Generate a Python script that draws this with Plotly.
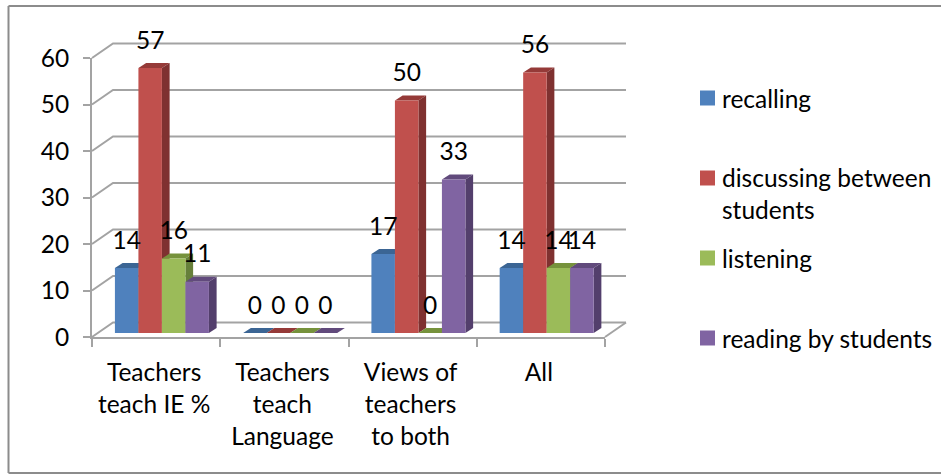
import plotly.graph_objects as go

W, H = 941, 474

categories = ["Teachers<br>teach IE %", "Teachers<br>teach<br>Language", "Views of<br>teachers<br>to both", "All"]
series_names = ["recalling", "discussing between students", "listening", "reading by students"]
recalling = [14, 0, 17, 14]
discussing = [57, 0, 50, 56]
listening = [16, 0, 0, 14]
reading = [11, 0, 33, 14]
series_values = [recalling, discussing, listening, reading]
y_ticks = [0, 10, 20, 30, 40, 50, 60]

front = ["#4f81bd", "#c0504d", "#9bbb59", "#8064a2"]
top = ["#3b6594", "#953a38", "#76923c", "#614a7c"]
side = ["#34587f", "#7f3130", "#66803a", "#533f6c"]
GRID = "#a3a3a3"
FONT = "Lato, Carlito, sans-serif"
FS = 24.5

# pixel geometry
PX_CAT = 128.25
PX_VAL = 4.65
X0, Y0 = 97.8, 333.0          # bar front plane origin
DOM_L, DOM_R, DOM_T, DOM_B = 80.0, 640.0, 30.0, 345.0
xr = [(DOM_L - X0) / PX_CAT, (DOM_R - X0) / PX_CAT]
yr = [(Y0 - DOM_B) / PX_VAL, (Y0 - DOM_T) / PX_VAL]
xdom = [DOM_L / W, DOM_R / W]
ydom = [1 - DOM_B / H, 1 - DOM_T / H]

GROUP = 94 / PX_CAT
BAR = GROUP / 4
D_U, D_V = 7.7 / PX_CAT, 5.0 / PX_VAL   # bar depth
FL_U, FL_V = -5.8 / PX_CAT, -4.0 / PX_VAL   # chart front plane
BK_U, BK_V = 15.2 / PX_CAT, 10.5 / PX_VAL   # chart back wall
LABEL_LIFT = 25.5 / PX_VAL
CAT_LABEL_SHIFT = -2.0 / PX_CAT

fig = go.Figure()

# walls: gridlines
for v in y_ticks:
    fig.add_trace(go.Scatter(
        x=[FL_U, BK_U, 4 + BK_U], y=[v + FL_V, v + BK_V, v + BK_V], mode="lines",
        line=dict(color=GRID, width=2), hoverinfo="skip", showlegend=False))
fig.add_trace(go.Scatter(
    x=[4 + FL_U, 4 + BK_U], y=[FL_V, BK_V], mode="lines",
    line=dict(color=GRID, width=2), hoverinfo="skip", showlegend=False))

centers = [i + 0.5 for i in range(len(categories))]

# bar depth faces, left to right
for ci, c in enumerate(centers):
    for si, vals in enumerate(series_values):
        v = vals[ci]
        l = c - GROUP / 2 + si * BAR
        r = l + BAR
        fig.add_trace(go.Scatter(
            x=[l, r, r + D_U, l + D_U, l], y=[v, v, v + D_V, v + D_V, v],
            mode="lines", fill="toself", fillcolor=top[si], line=dict(width=0),
            hoverinfo="skip", showlegend=False))
        fig.add_trace(go.Scatter(
            x=[r, r + D_U, r + D_U, r, r], y=[0, D_V, v + D_V, v, 0],
            mode="lines", fill="toself", fillcolor=side[si], line=dict(width=0),
            hoverinfo="skip", showlegend=False))

# bar front faces on an overlay of the same scale, above the depth faces
for si, vals in enumerate(series_values):
    fig.add_trace(go.Bar(
        x=centers, y=vals, name=series_names[si], marker=dict(color=front[si], line=dict(width=0)),
        xaxis="x3", yaxis="y3", showlegend=False))

# invisible trace so that the labelled axes are drawn
fig.add_trace(go.Scatter(x=centers, y=[0, 0, 0, 0], mode="markers", marker=dict(opacity=0),
                         xaxis="x2", yaxis="y2", hoverinfo="skip", showlegend=False))

# data labels
for si, vals in enumerate(series_values):
    xs = [c - GROUP / 2 + (si + 0.5) * BAR for c in centers]
    fig.add_trace(go.Scatter(
        x=xs, y=[v + LABEL_LIFT for v in vals], text=[str(v) for v in vals],
        mode="text", textposition="middle center", cliponaxis=False,
        textfont=dict(family=FONT, size=FS, color="#000000"),
        xaxis="x3", yaxis="y3", hoverinfo="skip", showlegend=False))

# legend
legend_rows = [("recalling", 98, 98, 0), ("discussing between<br>students", 178, 193, 1),
               ("listening", 258, 258, 2), ("reading by students", 338, 338, 3)]
shapes = []
annotations = []
for text, sy, ty, si in legend_rows:
    shapes.append(dict(type="rect", xref="paper", yref="paper", layer="above",
                       x0=700 / W, x1=715 / W, y0=1 - (sy + 7.5) / H, y1=1 - (sy - 7.5) / H,
                       fillcolor=front[si], line=dict(width=0)))
    annotations.append(dict(xref="paper", yref="paper", x=720 / W, y=1 - ty / H, text=text,
                            showarrow=False, xanchor="left", yanchor="middle", align="left",
                            font=dict(family=FONT, size=FS, color="#000000")))

# outer frame
for (x0, y0, x1, y1) in [(8.5, 6, 8.5, 473), (8.5, 6, 941, 6), (8.5, 473, 941, 473)]:
    shapes.append(dict(type="line", xref="paper", yref="paper", layer="below",
                       x0=x0 / W, x1=x1 / W, y0=1 - y0 / H, y1=1 - y1 / H,
                       line=dict(color="#8c8c8c", width=2)))

hidden = dict(visible=False, fixedrange=True, automargin=False)
fig.update_layout(
    width=W, height=H, autosize=False, margin=dict(l=0, r=0, t=0, b=0, autoexpand=False),
    paper_bgcolor="#ffffff", plot_bgcolor="rgba(0,0,0,0)", showlegend=False,
    barmode="group", bargap=1 - GROUP, bargroupgap=0,
    font=dict(family=FONT, size=FS, color="#000000"),
    shapes=shapes, annotations=annotations,
    xaxis=dict(domain=xdom, range=xr, anchor="y", **hidden),
    yaxis=dict(domain=ydom, range=yr, anchor="x", **hidden),
    xaxis3=dict(overlaying="x", range=xr, anchor="y3", **hidden),
    yaxis3=dict(overlaying="y", range=yr, anchor="x3", **hidden),
    xaxis2=dict(domain=[92 / W, 605 / W], range=[0, 4], anchor="y2", fixedrange=True, automargin=False,
                tickmode="array", tickvals=[c + CAT_LABEL_SHIFT for c in centers], ticktext=categories, ticks="",
                showgrid=False, zeroline=False, showline=True, linecolor=GRID, linewidth=2,
                ticklabelstandoff=13, tickfont=dict(family=FONT, size=FS),
                minor=dict(tickmode="array", tickvals=[0, 1, 2, 3, 4], ticks="outside",
                           ticklen=8, tickwidth=2, tickcolor=GRID, showgrid=False)),
    yaxis2=dict(domain=[1 - 337 / H, 1 - 58 / H], range=[0, 60], anchor="x2", fixedrange=True, automargin=False,
                tickmode="array", tickvals=y_ticks, ticks="outside", ticklen=7, tickwidth=2,
                tickcolor=GRID, showgrid=False, zeroline=False, showline=True, linecolor=GRID,
                linewidth=2, ticklabelstandoff=9, tickfont=dict(family=FONT, size=FS)),
)

fig.write_html("out.html", config=dict(displayModeBar=False),
               post_script="document.body.style.margin='0';document.body.style.overflow='hidden';")
